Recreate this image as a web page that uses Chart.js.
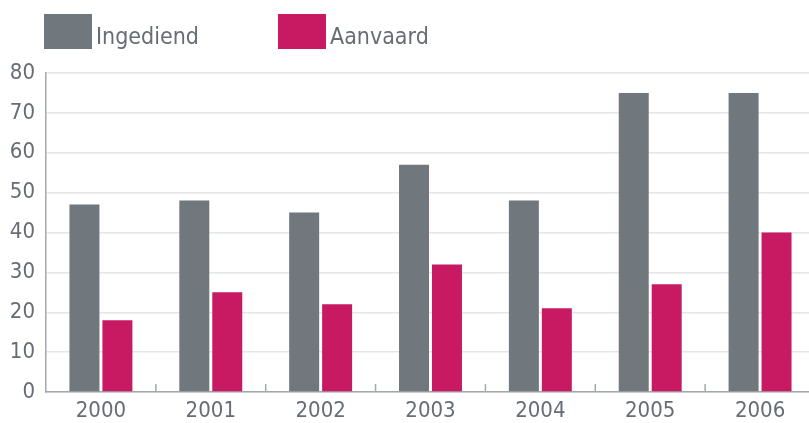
<!DOCTYPE html>
<html><head><meta charset="utf-8">
<script src="https://cdn.jsdelivr.net/npm/chart.js@4/dist/chart.umd.min.js"></script>
<style>html,body{margin:0;padding:0;background:#fff}#wrap{width:809px;height:423px}</style>
</head><body><div id="wrap"><canvas id="c"></canvas></div>
<script>
const categories = ['2000','2001','2002','2003','2004','2005','2006'];
const ingediend = [47, 48, 45, 57, 48, 75, 75];
const aanvaard = [18, 25, 22, 32, 21, 27, 40];
const yTicks = [0,10,20,30,40,50,60,70,80];

const FONT = "'DejaVu Sans Condensed', 'Liberation Sans Narrow', 'Open Sans', sans-serif";
const TXT = '#676d74';

const extendRight = {
  id:'extendRight',
  afterLayout(chart){
    const extra = 6, xs = chart.scales.x;
    xs.right += extra; xs.width += extra;
    chart.chartArea.right += extra; chart.chartArea.width += extra;
    if (typeof xs.configure === 'function') xs.configure();
  }
};

const innerTicks = {
  id:'innerTicks',
  afterDatasetsDraw(chart){
    const xs = chart.scales.x, ctx = chart.ctx, b = chart.chartArea.bottom;
    ctx.save(); ctx.strokeStyle='#a3a8ad'; ctx.lineWidth=1.5;
    for(let i=1;i<categories.length;i++){
      const x = (xs.getPixelForValue(i-1)+xs.getPixelForValue(i))/2;
      ctx.beginPath(); ctx.moveTo(x,b); ctx.lineTo(x,b-8); ctx.stroke();
    }
    ctx.restore();
  }
};

const topLegend = {
  id:'topLegend',
  afterDraw(chart){
    const ctx = chart.ctx, left = chart.chartArea.left - 2;
    ctx.save();
    ctx.font = "23px " + FONT;
    ctx.textBaseline = 'alphabetic';
    chart.data.datasets.forEach((ds,i)=>{
      const x = left + i*234;
      ctx.fillStyle = ds.backgroundColor;
      ctx.fillRect(x, 14, 48, 35);
      ctx.fillStyle = TXT;
      ctx.fillText(ds.label, x + 52, 44);
    });
    ctx.restore();
  }
};

new Chart(document.getElementById('c'), {
  type:'bar',
  data:{labels:categories, datasets:[
    {label:'Ingediend', data:ingediend, backgroundColor:'#70777d', barPercentage:0.91, categoryPercentage:0.6},
    {label:'Aanvaard', data:aanvaard, backgroundColor:'#c71a62', barPercentage:0.91, categoryPercentage:0.6}
  ]},
  options:{
    responsive:true, maintainAspectRatio:false, animation:false,
    layout:{padding:{left:0,right:0,top:73,bottom:0}},
    plugins:{
      tooltip:{enabled:false},
      legend:{display:false}
    },
    scales:{
      x:{grid:{display:false, drawTicks:false}, border:{color:'#a3a8ad', width:1.5},
        ticks:{color:TXT, font:{family:FONT,size:22}, padding:6},
        afterFit(s){ s.height = 31; }
      },
      y:{min:0,max:80, afterBuildTicks(s){ s.ticks = yTicks.map(v=>({value:v})); },
        grid:{color:'#e3e5e7', lineWidth:1.5, drawTicks:false}, border:{color:'#a3a8ad', width:1.5},
        ticks:{color:TXT, font:{family:FONT,size:22}, padding:11},
        afterFit(s){ s.width = 46; }
      }
    }
  },
  plugins:[extendRight, innerTicks, topLegend]
});
</script></body></html>
